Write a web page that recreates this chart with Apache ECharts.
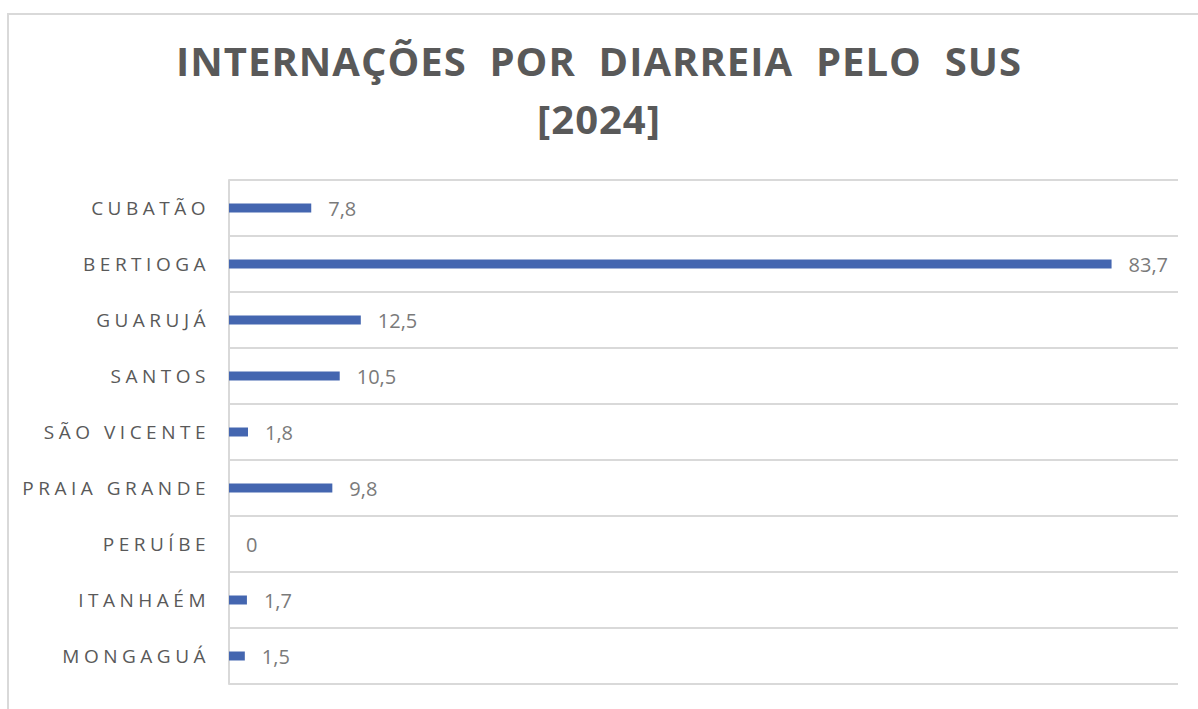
<!DOCTYPE html>
<html>
<head>
<meta charset="utf-8">
<script src="https://cdn.jsdelivr.net/npm/echarts@6/dist/echarts.min.js"></script>
<style>
  html, body { margin: 0; padding: 0; background: #fff; }
  #chart { width: 1198px; height: 709px; }
  /* letter spacing like the original spreadsheet chart */
  #chart text[style*="40px"] { letter-spacing: 1px; }
  #chart text[style*="19px"] { letter-spacing: 4.5px; }
</style>
</head>
<body>
<div id="chart"></div>
<script>
let categories = ['CUBATÃO', 'BERTIOGA', 'GUARUJÁ', 'SANTOS', 'SÃO VICENTE', 'PRAIA GRANDE', 'PERUÍBE', 'ITANHAÉM', 'MONGAGUÁ'];
let values = [7.8, 83.7, 12.5, 10.5, 1.8, 9.8, 0, 1.7, 1.5];
let titleLines = ['INTERNAÇÕES  POR  DIARREIA  PELO  SUS', '[2024]'];

let myChart = echarts.init(document.getElementById('chart'), null, { renderer: 'svg' });
let option = {
    backgroundColor: '#ffffff',
    animation: false,
    title: {
        text: titleLines.join('\n'),
        left: 'center',
        top: 26,
        padding: [5, 0, 5, 14],
        textStyle: {
            fontFamily: 'Open Sans',
            fontWeight: 'bold',
            fontSize: 40,
            lineHeight: 58,
            color: '#595959'
        }
    },
    graphic: [{
        type: 'rect',
        shape: { x: 8, y: 14, width: 1300, height: 800 },
        style: { fill: 'none', stroke: '#d9d9d9', lineWidth: 2 },
        silent: true
    }],
    grid: {
        left: 229,
        right: 20,
        top: 180,
        bottom: 25,
        containLabel: false
    },
    xAxis: {
        type: 'value',
        min: 0,
        max: 90,
        show: false
    },
    yAxis: {
        type: 'category',
        inverse: true,
        data: categories,
        axisLine: { show: true, lineStyle: { color: '#d9d9d9', width: 2 } },
        axisTick: { show: false },
        splitLine: { show: true, lineStyle: { color: '#d9d9d9', width: 2 } },
        axisLabel: {
            margin: 19,
            fontFamily: 'Open Sans',
            fontSize: 19,
            color: '#595959'
        }
    },
    series: [{
        type: 'bar',
        data: values,
        barWidth: 9,
        itemStyle: { color: '#4466b0' },
        label: {
            show: true,
            position: 'right',
            distance: 17,
            fontFamily: 'Open Sans',
            fontSize: 20,
            color: '#7a7a7a',
            formatter: function (p) {
                return String(p.value).replace('.', ',');
            }
        }
    }]
};
myChart.setOption(option);
</script>
</body>
</html>
